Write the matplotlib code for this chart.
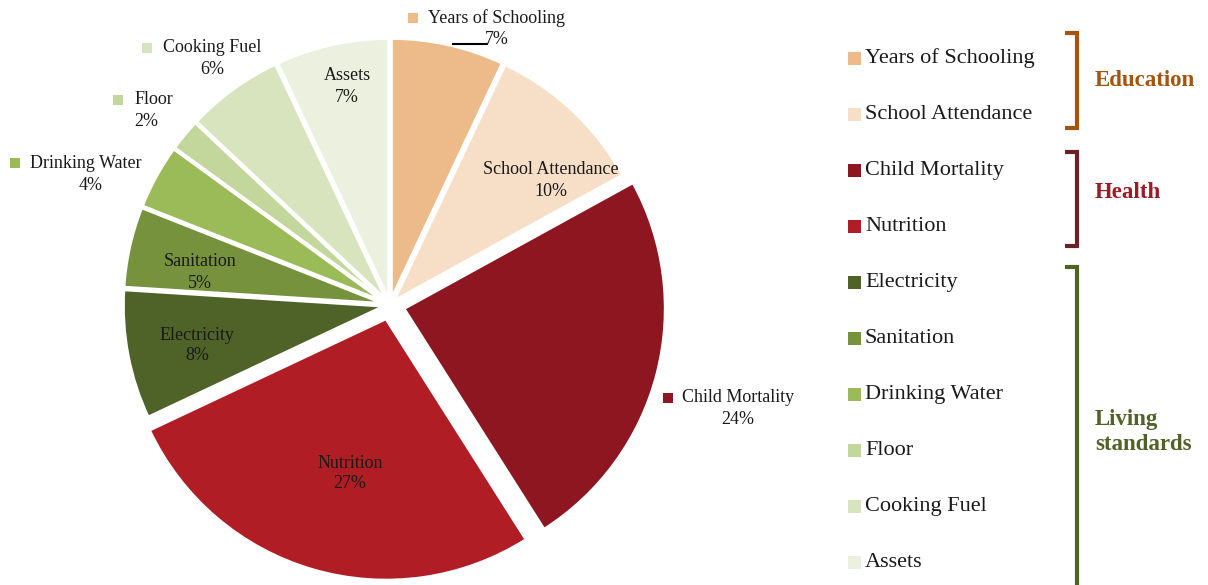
import matplotlib
matplotlib.use("Agg")
import matplotlib.pyplot as plt
from matplotlib.patches import Rectangle

# ---------------- data ----------------
indicators = ["Years of Schooling", "School Attendance", "Child Mortality", "Nutrition",
              "Electricity", "Sanitation", "Drinking Water", "Floor", "Cooking Fuel", "Assets"]
shares = [7, 10, 24, 27, 8, 5, 4, 2, 6, 7]
colors = ["#EDBB8A", "#F7DFC7", "#8E1620", "#B11D25",
          "#4F6228", "#76923C", "#9BBB59", "#C3D69B", "#D7E4BD", "#EBF1DE"]
groups = ["Education", "Health", "Living\nstandards"]
group_sizes = [2, 2, 6]
group_colors = ["#A5540F", "#6A2229", "#4F6228"]
group_text_colors = ["#A5540F", "#9B1C26", "#4F6228"]

# ---------------- layout ----------------
W, H = 1208, 585
center = (390, 305)
radius = 262
# explode offsets in pixels (matplotlib uses data units)
explode = [5, 5, 14, 14, 5, 5, 5, 5, 5, 5]
# label layout: (x of text centre, y of name line, y of pct line, x of pct, marker x or None)
label_layout = {
    "Years of Schooling": (497, 18, 40, 497, 413),
    "School Attendance": (551, 169, 191, 551, None),
    "Child Mortality": (738, 398, 420, 738, 668),
    "Nutrition": (350, 463, 484, 350, None),
    "Electricity": (197, 335, 356, 197, None),
    "Sanitation": (200, 262, 283, 200, None),
    "Drinking Water": (86, 163, 185, 91, 15),
    "Floor": (154, 100, 121, 146, 118),
    "Cooking Fuel": (212, 48, 70, 212, 147),
    "Assets": (347, 75, 97, 347, None),
}
serif = ["Liberation Serif", "DejaVu Serif"]
label_fs = 13
legend_fs = 16

fig = plt.figure(figsize=(W / 100, H / 100), dpi=100)
ax = fig.add_axes([0, 0, 1, 1])

ax.pie(shares, colors=colors, explode=explode, center=center, radius=radius,
       startangle=-90, counterclock=True, frame=True,
       wedgeprops=dict(edgecolor="white", linewidth=2.5))
ax.set_xlim(0, W)
ax.set_ylim(H, 0)
ax.set_aspect("equal")
ax.axis("off")

# pie labels
for name, val, col in zip(indicators, shares, colors):
    tx, ty, py, px, mx = label_layout[name]
    ax.text(tx, ty, name, ha="center", va="center", fontsize=label_fs,
            family=serif, color="#1a1a1a")
    ax.text(px, py, f"{val}%", ha="center", va="center", fontsize=label_fs,
            family=serif, color="#1a1a1a")
    if mx is not None:
        ax.add_patch(Rectangle((mx - 5, ty - 5), 10, 10, facecolor=col, edgecolor="none"))

# leader line for Years of Schooling
ax.plot([453, 487], [44, 44], color="black", lw=1.5)

# legend
leg_y0, leg_dy = 58, 56.1
for i, (name, col) in enumerate(zip(indicators, colors)):
    y = leg_y0 + i * leg_dy
    ax.add_patch(Rectangle((848, y - 6.5), 13, 13, facecolor=col, edgecolor="none"))
    ax.text(865, y, name, ha="left", va="center", fontsize=legend_fs,
            family=serif, color="#1a1a1a")

# group brackets
brackets = [(33, 128), (152, 246), (267, 590)]
label_y = [81, 192, 432]
for (y0, y1), g, bc, tc, ly in zip(brackets, groups, group_colors, group_text_colors, label_y):
    ax.plot([1065, 1077, 1077, 1065], [y0, y0, y1, y1], color=bc, lw=3,
            solid_joinstyle="miter", solid_capstyle="butt")
    ax.text(1095, ly, g, ha="left", va="center", fontsize=16.5, fontweight="bold",
            family=serif, color=tc, linespacing=1.3)

fig.savefig("out.png", dpi=100)
